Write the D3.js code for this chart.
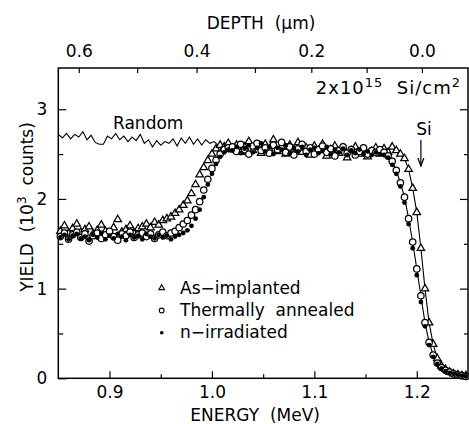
<!DOCTYPE html>
<html><head><meta charset="utf-8">
<script src="https://cdn.jsdelivr.net/npm/d3@7"></script>
<style>
body{margin:0;background:#fff}
svg{display:block}
text{font-family:"DejaVu Sans",sans-serif;fill:#000}
</style>
</head><body>
<svg id="c" width="469" height="424"></svg>
<script>
// ---- data ----
const energy = [0.852,0.856,0.860,0.864,0.868,0.872,0.876,0.880,0.884,0.888,
0.892,0.896,0.900,0.904,0.908,0.912,0.916,0.920,0.924,0.928,
0.932,0.936,0.940,0.944,0.948,0.952,0.956,0.960,0.964,0.968,
0.972,0.976,0.980,0.984,0.988,0.992,0.996,1.000,1.004,1.008,
1.012,1.016,1.020,1.024,1.028,1.032,1.036,1.040,1.044,1.048,
1.052,1.056,1.060,1.064,1.068,1.072,1.076,1.080,1.084,1.088,
1.092,1.096,1.100,1.104,1.108,1.112,1.116,1.120,1.124,1.128,
1.132,1.136,1.140,1.144,1.148,1.152,1.156,1.160,1.164,1.168,
1.172,1.176,1.180,1.184,1.188,1.192,1.196,1.200,1.204,1.208,
1.212,1.216,1.220,1.224,1.228,1.232,1.236,1.240,1.244,1.248];

const asImplanted = [1.64,1.70,1.62,1.67,1.72,1.63,1.66,1.69,1.61,1.65,
1.71,1.64,1.60,1.68,1.77,1.63,1.66,1.70,1.62,1.67,
1.69,1.72,1.68,1.74,1.71,1.76,1.78,1.80,1.84,1.88,
1.93,1.98,2.06,2.16,2.27,2.35,2.43,2.50,2.56,2.60,
2.58,2.62,2.55,2.60,2.52,2.58,2.64,2.54,2.59,2.51,
2.61,2.56,2.66,2.53,2.58,2.50,2.60,2.55,2.63,2.52,
2.57,2.49,2.59,2.54,2.61,2.48,2.55,2.59,2.51,2.57,
2.46,2.54,2.58,2.50,2.55,2.47,2.53,2.57,2.50,2.56,
2.52,2.58,2.54,2.50,2.45,2.33,2.12,1.85,1.45,1.00,
0.62,0.38,0.22,0.14,0.10,0.07,0.05,0.04,0.03,0.03];

const annealed = [1.58,1.62,1.55,1.60,1.63,1.57,1.61,1.53,1.59,1.62,
1.56,1.60,1.64,1.58,1.54,1.61,1.59,1.63,1.57,1.60,
1.62,1.58,1.61,1.56,1.60,1.63,1.59,1.62,1.64,1.68,
1.72,1.76,1.82,1.88,1.97,2.10,2.22,2.34,2.43,2.50,
2.55,2.57,2.58,2.53,2.61,2.55,2.50,2.59,2.62,2.54,
2.57,2.51,2.60,2.55,2.63,2.52,2.58,2.49,2.56,2.61,
2.53,2.57,2.50,2.55,2.59,2.52,2.56,2.48,2.54,2.58,
2.51,2.55,2.49,2.53,2.57,2.50,2.54,2.52,2.55,2.52,
2.48,2.42,2.32,2.18,2.02,1.78,1.52,1.22,0.92,0.62,
0.40,0.26,0.17,0.12,0.09,0.07,0.05,0.04,0.03,0.02];

const irradiated = [1.57,1.60,1.55,1.59,1.61,1.56,1.58,1.54,1.60,1.57,
1.62,1.55,1.59,1.56,1.61,1.58,1.54,1.60,1.57,1.59,
1.55,1.61,1.58,1.56,1.60,1.57,1.59,1.55,1.58,1.60,
1.62,1.65,1.70,1.78,1.88,2.02,2.16,2.28,2.39,2.47,
2.52,2.55,2.54,2.58,2.51,2.56,2.60,2.52,2.57,2.62,
2.53,2.58,2.50,2.57,2.55,2.60,2.51,2.56,2.53,2.58,
2.49,2.55,2.57,2.51,2.54,2.58,2.50,2.55,2.52,2.56,
2.49,2.54,2.51,2.55,2.50,2.53,2.49,2.52,2.50,2.49,
2.46,2.38,2.28,2.14,1.96,1.72,1.45,1.15,0.85,0.58,
0.37,0.24,0.16,0.11,0.08,0.06,0.05,0.04,0.03,0.02];

const randomEnergy = [0.850,0.854,0.858,0.862,0.866,0.870,0.874,0.878,0.882,0.886,
0.890,0.894,0.898,0.902,0.906,0.910,0.914,0.918,0.922,0.926,
0.930,0.934,0.938,0.942,0.946,0.950,0.954,0.958,0.962,0.966,
0.970,0.974,0.978,0.982,0.986,0.990,0.994,0.998,1.002,1.006,1.010];
const randomYield = [2.72,2.68,2.73,2.67,2.72,2.69,2.75,2.66,2.71,2.63,
2.61,2.61,2.70,2.67,2.73,2.66,2.70,2.64,2.69,2.65,
2.72,2.62,2.66,2.58,2.65,2.60,2.64,2.62,2.67,2.59,
2.68,2.62,2.69,2.61,2.67,2.60,2.66,2.62,2.64,2.60,2.62];

const xMajorTicks = [0.9,1.0,1.1,1.2];
const xMinorTicks = [0.95,1.05,1.15];
const yMajorTicks = [0,1,2,3];
const yMinorTicks = [0.5,1.5,2.5];
const depthTicks = [0.6,0.5,0.4,0.3,0.2,0.1,0.0];
const depthTickEnergy = [0.870,0.927,0.985,1.042,1.097,1.151,1.205];
const depthLabels = ["0.6","","0.4","","0.2","","0.0"];
const siSurfaceEnergy = 1.204;
const legendItems = ["As\u2212implanted","Thermally  annealed","n\u2212irradiated"];

// ---- layout ----
const L=58.3, R=468, T=68, B=378.3;
const svg = d3.select("#c");
const x = d3.scaleLinear().domain([0.85,1.25]).range([L,R]);
const y = d3.scaleLinear().domain([0,3.46]).range([B,T]);

function clean(g){ g.select(".domain").remove(); g.selectAll("line").attr("stroke","#000").attr("stroke-width",1.2); g.selectAll("text").attr("font-size",17).attr("font-family","DejaVu Sans").attr("fill","#000"); }

// bottom axis
svg.append("g").attr("transform",`translate(0,${B})`)
  .call(d3.axisBottom(x).tickValues(xMajorTicks).tickSize(-7).tickPadding(8).tickFormat(d3.format(".1f"))).call(clean);
svg.append("g").attr("transform",`translate(0,${B})`)
  .call(d3.axisBottom(x).tickValues(xMinorTicks).tickSize(-4).tickFormat("")).call(clean);
// left axis
svg.append("g").attr("transform",`translate(${L},0)`)
  .call(d3.axisLeft(y).tickValues(yMajorTicks).tickSize(-8).tickPadding(11).tickFormat(d3.format("d"))).call(clean);
svg.append("g").attr("transform",`translate(${L},0)`)
  .call(d3.axisLeft(y).tickValues(yMinorTicks).tickSize(-5).tickFormat("")).call(clean);
// right axis
svg.append("g").attr("transform",`translate(${R},0)`)
  .call(d3.axisRight(y).tickValues(yMajorTicks).tickSize(-8).tickFormat("")).call(clean);
svg.append("g").attr("transform",`translate(${R},0)`)
  .call(d3.axisRight(y).tickValues(yMinorTicks).tickSize(-4).tickFormat("")).call(clean);
// top (depth) axis
svg.append("g").attr("transform",`translate(0,${T})`)
  .call(d3.axisTop(x).tickValues(depthTickEnergy).tickSize(-5).tickPadding(11.5).tickFormat((d,i)=>depthLabels[i])).call(clean);

// frame
svg.append("rect").attr("x",L).attr("y",T).attr("width",R-L).attr("height",B-T)
  .attr("fill","none").attr("stroke","#000").attr("stroke-width",1.5);

// titles
svg.append("text").attr("x",261).attr("y",29).attr("text-anchor","middle").attr("font-size",17)
  .style("white-space","pre").text("DEPTH  (\u03bcm)");
svg.append("text").attr("x",(L+R)/2-8).attr("y",421).attr("text-anchor","middle").attr("font-size",17)
  .style("white-space","pre").text("ENERGY  (MeV)");
const yt = svg.append("text").attr("transform","translate(33,207) rotate(-90)").attr("text-anchor","middle")
  .attr("font-size",17).style("white-space","pre");
yt.append("tspan").text("YIELD  (10");
yt.append("tspan").attr("dy",-7).attr("font-size",12).text("3");
yt.append("tspan").attr("dy",7).text("  counts)");

// dose annotation
const dose = svg.append("text").attr("x",461).attr("y",94).attr("text-anchor","end").attr("font-size",18)
  .attr("letter-spacing",1).style("white-space","pre");
dose.append("tspan").text("2x10");
dose.append("tspan").attr("dy",-7).attr("font-size",13).text("15");
dose.append("tspan").attr("dy",7).text("  Si/cm");
dose.append("tspan").attr("dy",-7).attr("font-size",13).text("2");

// Random line
const line = d3.line().x(d=>x(d[0])).y(d=>y(d[1]));
svg.append("path").datum(randomEnergy.map((e,i)=>[e,randomYield[i]]))
  .attr("d",line).attr("fill","none").attr("stroke","#000").attr("stroke-width",1.1);
svg.append("text").attr("x",113).attr("y",129).attr("font-size",17).text("Random");

// Si arrow
const ax = x(siSurfaceEnergy);
svg.append("text").attr("x",ax+3).attr("y",135).attr("text-anchor","middle").attr("font-size",17).text("Si");
svg.append("line").attr("x1",ax).attr("x2",ax).attr("y1",140).attr("y2",166).attr("stroke","#000").attr("stroke-width",1.2);
svg.append("path").attr("d",`M${ax-3},${158} L${ax},${166} L${ax+3},${158}`).attr("fill","none").attr("stroke","#000").attr("stroke-width",1.2);

// edge connecting lines
const ai = energy.map((e,i)=>[e,asImplanted[i]]);
const an = energy.map((e,i)=>[e,annealed[i]]);
const ir = energy.map((e,i)=>[e,irradiated[i]]);
svg.append("path").datum(ai.filter(d=>d[0]>=1.176)).attr("d",line).attr("fill","none").attr("stroke","#000").attr("stroke-width",1.1);
svg.append("path").datum(an.filter(d=>d[0]>=1.164)).attr("d",line).attr("fill","none").attr("stroke","#000").attr("stroke-width",1.1);

// markers
const tri = d3.symbol().type(d3.symbolTriangle).size(24);
svg.append("g").selectAll("path").data(ai).join("path")
  .attr("d",tri).attr("transform",d=>`translate(${x(d[0])},${y(d[1])})`)
  .attr("fill","#fff").attr("stroke","#000").attr("stroke-width",1.25);
svg.append("g").selectAll("circle").data(an).join("circle")
  .attr("cx",d=>x(d[0])).attr("cy",d=>y(d[1])).attr("r",3.2)
  .attr("fill","#fff").attr("stroke","#000").attr("stroke-width",1.25);
svg.append("g").selectAll("circle").data(ir).join("circle")
  .attr("cx",d=>x(d[0])).attr("cy",d=>y(d[1])).attr("r",2.4)
  .attr("fill","#000");

// legend
const lx = 161.7, rows=[288,310.5,332.7];
svg.append("path").attr("d",d3.symbol().type(d3.symbolTriangle).size(14)).attr("transform",`translate(${lx},${rows[0]})`)
  .attr("fill","#fff").attr("stroke","#000").attr("stroke-width",1.1);
svg.append("circle").attr("cx",lx).attr("cy",rows[1]).attr("r",2.4).attr("fill","#fff").attr("stroke","#000").attr("stroke-width",1.1);
svg.append("circle").attr("cx",lx).attr("cy",rows[2]).attr("r",1.8).attr("fill","#000");
legendItems.forEach((t,i)=>{
  svg.append("text").attr("x",180).attr("y",rows[i]+5.5).attr("font-size",17).style("white-space","pre").text(t);
});
</script>
</body></html>
